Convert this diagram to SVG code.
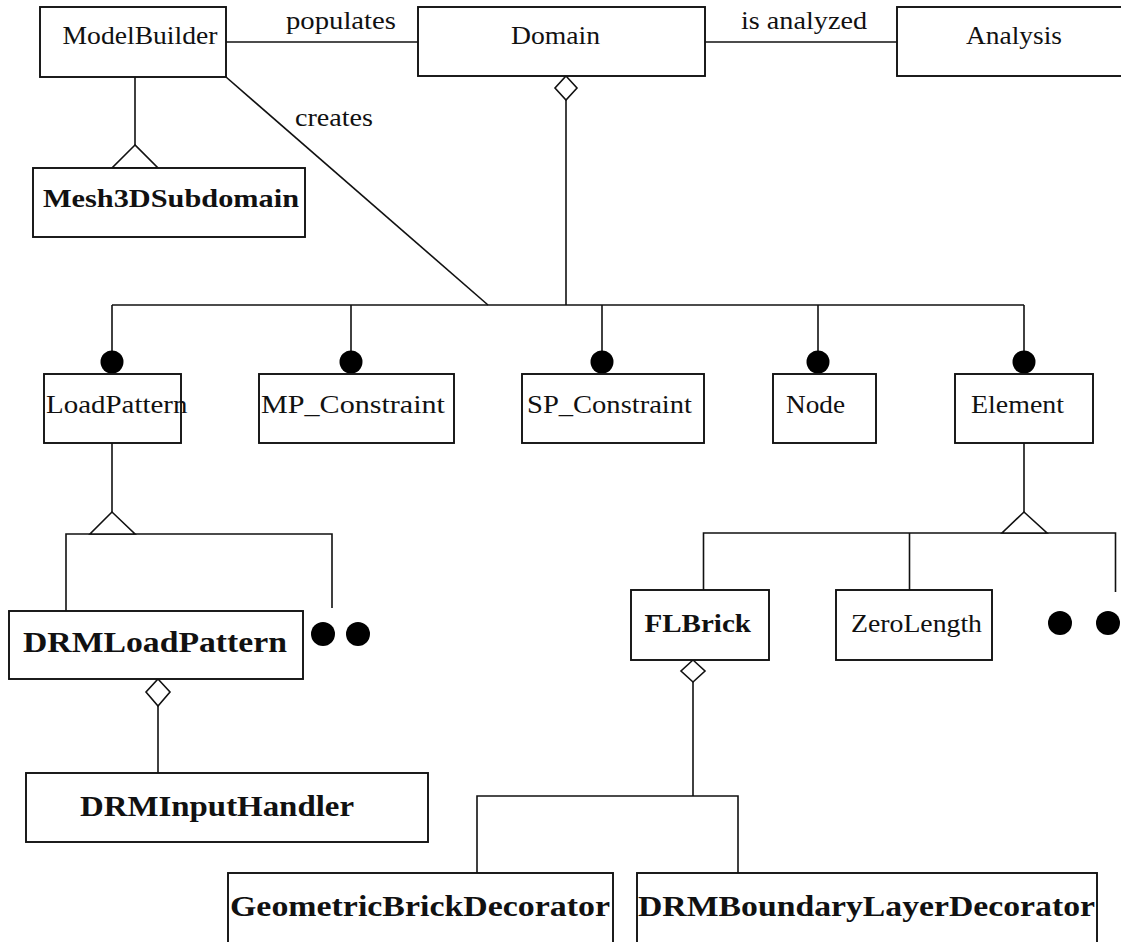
<svg xmlns="http://www.w3.org/2000/svg" width="1121" height="942" viewBox="0 0 1121 942">
  <style>
    .box { fill: #fff; stroke: #111; stroke-width: 1.9; }
    .ln { fill: none; stroke: #111; stroke-width: 1.6; }
    .hollow { fill: #fff; stroke: #111; stroke-width: 1.6; stroke-linejoin: miter; }
    .dot { fill: #000; }
    text { font-family: "Liberation Serif", "DejaVu Serif", serif; fill: #111; }
    .t { font-size: 26px; }
    .b { font-size: 26px; font-weight: bold; }
    .bl { font-size: 29px; font-weight: bold; }
    .lbl { font-size: 26px; }
  </style>
  <rect width="1121" height="942" fill="#fff"/>

  <!-- connectors -->
  <g id="connectors">
    <!-- associations -->
    <line class="ln" x1="226" y1="42" x2="418" y2="42"/>
    <line class="ln" x1="705" y1="42" x2="897" y2="42"/>
    <line class="ln" x1="226" y1="77" x2="488" y2="305"/>
    <text class="lbl" x="286" y="29" textLength="110" lengthAdjust="spacingAndGlyphs">populates</text>
    <text class="lbl" x="741" y="29" textLength="126" lengthAdjust="spacingAndGlyphs">is analyzed</text>
    <text class="lbl" x="295" y="126" textLength="78" lengthAdjust="spacingAndGlyphs">creates</text>

    <!-- ModelBuilder generalization -->
    <line class="ln" x1="135" y1="77" x2="135" y2="145"/>
    <polygon class="hollow" points="135,145 112,168 158,168"/>

    <!-- Domain aggregation bus -->
    <polygon class="hollow" points="566,76 577,88 566,100 555,88"/>
    <line class="ln" x1="566" y1="100" x2="566" y2="305"/>
    <line class="ln" x1="112" y1="305" x2="1024" y2="305"/>
    <line class="ln" x1="112" y1="305" x2="112" y2="355"/>
    <line class="ln" x1="351" y1="305" x2="351" y2="355"/>
    <line class="ln" x1="602" y1="305" x2="602" y2="355"/>
    <line class="ln" x1="818" y1="305" x2="818" y2="355"/>
    <line class="ln" x1="1024" y1="305" x2="1024" y2="355"/>
    <circle class="dot" cx="112" cy="362" r="11.5"/>
    <circle class="dot" cx="351" cy="362" r="11.5"/>
    <circle class="dot" cx="602" cy="362" r="11.5"/>
    <circle class="dot" cx="818" cy="362" r="11.5"/>
    <circle class="dot" cx="1024" cy="362" r="11.5"/>

    <!-- LoadPattern generalization -->
    <line class="ln" x1="112" y1="443" x2="112" y2="512"/>
    <polyline class="ln" points="66,611 66,534 332,534 332,608"/>
    <polygon class="hollow" points="112,512 90,534 135,534"/>
    <circle class="dot" cx="323" cy="634" r="12"/>
    <circle class="dot" cx="358" cy="634" r="12"/>

    <!-- DRMLoadPattern aggregation -->
    <polygon class="hollow" points="158,679 170,692 158,706 146,692"/>
    <line class="ln" x1="158" y1="706" x2="158" y2="773"/>

    <!-- Element generalization -->
    <line class="ln" x1="1024" y1="443" x2="1024" y2="512"/>
    <polyline class="ln" points="703.5,590 703.5,533 1115.5,533 1115.5,592"/>
    <line class="ln" x1="909.5" y1="533" x2="909.5" y2="590"/>
    <polygon class="hollow" points="1024,512 1002,533 1047,533"/>
    <circle class="dot" cx="1060" cy="623" r="12"/>
    <circle class="dot" cx="1108" cy="623" r="12"/>

    <!-- FLBrick decorators -->
    <polygon class="hollow" points="693,660 705,671 693,682 681,671"/>
    <line class="ln" x1="693" y1="682" x2="693" y2="796"/>
    <polyline class="ln" points="477,873 477,796 738,796 738,873"/>
  </g>

  <!-- nodes -->
  <g id="ModelBuilder">
    <rect class="box" x="40" y="7" width="186" height="70"/>
    <text class="t" x="62.5" y="44" textLength="155" lengthAdjust="spacingAndGlyphs">ModelBuilder</text>
  </g>
  <g id="Domain">
    <rect class="box" x="418" y="7" width="287" height="69"/>
    <text class="t" x="511" y="44" textLength="89" lengthAdjust="spacingAndGlyphs">Domain</text>
  </g>
  <g id="Analysis">
    <rect class="box" x="897" y="7" width="240" height="69"/>
    <text class="t" x="966" y="44" textLength="96" lengthAdjust="spacingAndGlyphs">Analysis</text>
  </g>
  <g id="Mesh3DSubdomain">
    <rect class="box" x="33" y="168" width="272" height="69"/>
    <text class="b" x="43" y="207" textLength="256" lengthAdjust="spacingAndGlyphs">Mesh3DSubdomain</text>
  </g>
  <g id="LoadPattern">
    <rect class="box" x="44" y="374" width="137" height="69"/>
    <text class="t" x="46" y="413" textLength="141.5" lengthAdjust="spacingAndGlyphs">LoadPattern</text>
  </g>
  <g id="MP_Constraint">
    <rect class="box" x="259" y="374" width="195" height="69"/>
    <text class="t" x="261" y="413" textLength="184" lengthAdjust="spacingAndGlyphs">MP_Constraint</text>
  </g>
  <g id="SP_Constraint">
    <rect class="box" x="522" y="374" width="182" height="69"/>
    <text class="t" x="527" y="413" textLength="165" lengthAdjust="spacingAndGlyphs">SP_Constraint</text>
  </g>
  <g id="Node">
    <rect class="box" x="773" y="374" width="103" height="69"/>
    <text class="t" x="786" y="413" textLength="59" lengthAdjust="spacingAndGlyphs">Node</text>
  </g>
  <g id="Element">
    <rect class="box" x="955" y="374" width="138" height="69"/>
    <text class="t" x="971" y="413" textLength="93" lengthAdjust="spacingAndGlyphs">Element</text>
  </g>
  <g id="DRMLoadPattern">
    <rect class="box" x="9" y="611" width="294" height="68"/>
    <text class="bl" x="23" y="652" textLength="264" lengthAdjust="spacingAndGlyphs">DRMLoadPattern</text>
  </g>
  <g id="DRMInputHandler">
    <rect class="box" x="26" y="773" width="402" height="69"/>
    <text class="bl" x="80" y="816" textLength="274" lengthAdjust="spacingAndGlyphs">DRMInputHandler</text>
  </g>
  <g id="FLBrick">
    <rect class="box" x="631" y="590" width="138" height="70"/>
    <text class="b" x="644.5" y="632" textLength="106.5" lengthAdjust="spacingAndGlyphs">FLBrick</text>
  </g>
  <g id="ZeroLength">
    <rect class="box" x="836" y="590" width="156" height="70"/>
    <text class="t" x="851" y="632" textLength="131" lengthAdjust="spacingAndGlyphs">ZeroLength</text>
  </g>
  <g id="GeometricBrickDecorator">
    <rect class="box" x="228" y="873" width="385" height="80"/>
    <text class="bl" x="230" y="916" textLength="380" lengthAdjust="spacingAndGlyphs">GeometricBrickDecorator</text>
  </g>
  <g id="DRMBoundaryLayerDecorator">
    <rect class="box" x="637" y="873" width="460" height="80"/>
    <text class="bl" x="638" y="916" textLength="457" lengthAdjust="spacingAndGlyphs">DRMBoundaryLayerDecorator</text>
  </g>
</svg>
